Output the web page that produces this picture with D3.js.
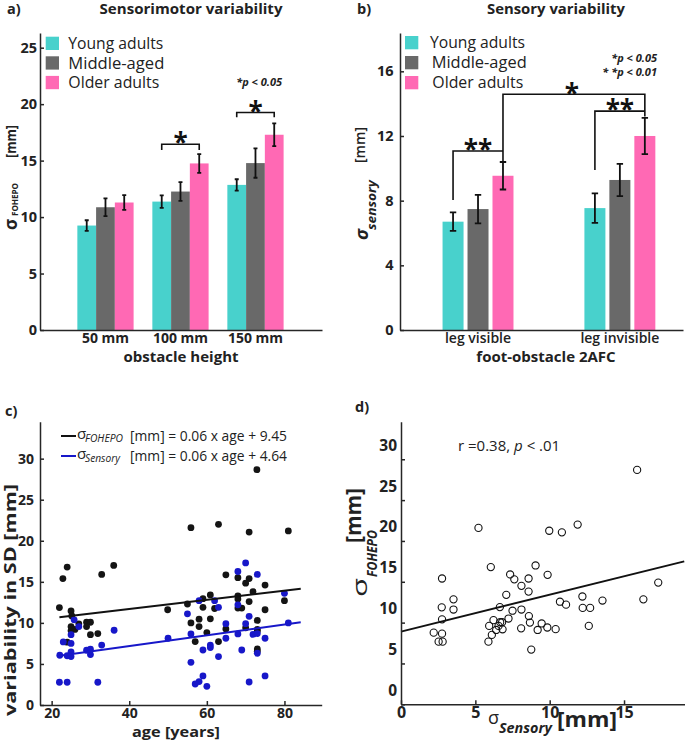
<!DOCTYPE html>
<html><head><meta charset="utf-8">
<script src="https://cdn.jsdelivr.net/npm/d3@7"></script>
<style>body{margin:0;background:#fff} svg{display:block} text{font-family:'Open Sans',sans-serif}</style>
</head><body><svg id="chart" width="685" height="743"></svg>
<script>
// ---------- DATA ----------
const groups = ["Young adults", "Middle-aged", "Older adults"];
const groupColors = ["#48D1CC", "#696969", "#FF69B4"];

// panel a: sensorimotor variability
const heightLabels = ["50 mm", "100 mm", "150 mm"];
const smYoung = [9.25, 11.37, 12.85];
const smYoungErr = [0.47, 0.55, 0.5];
const smMiddle = [10.87, 12.26, 14.78];
const smMiddleErr = [0.78, 0.83, 1.3];
const smOlder = [11.29, 14.75, 17.29];
const smOlderErr = [0.66, 0.83, 1.0];
const yTicksA = [0, 5, 10, 15, 20, 25];

// panel b: sensory variability
const visLabels = ["leg visible", "leg invisible"];
const senYoung = [6.7, 7.54];
const senYoungErr = [0.57, 0.91];
const senMiddle = [7.48, 9.28];
const senMiddleErr = [0.88, 1.0];
const senOlder = [9.54, 12.0];
const senOlderErr = [0.85, 1.12];
const yTicksB = [0, 4, 8, 12, 16];

// panel c: variability vs age
const ageTicks = [20, 40, 60, 80];
const varTicks = [0, 5, 10, 15, 20, 25, 30];
const cAgeFohepo = [22.0, 22.9, 24.0, 32.9, 36.0, 25.0, 25.2, 27.0, 29.0, 30.0, 25.0, 25.0, 26.0, 29.0, 30.0, 31.9, 24.0,
  49.9, 55.0, 55.9, 63.0, 70.9, 81.0, 72.9, 64.9, 68.0, 70.9, 70.0, 75.0, 71.9, 60.9, 59.0, 68.0, 68.0, 70.9, 80.0,
  59.0, 62.0, 68.0, 69.0, 75.0, 55.9, 58.0, 60.9, 73.0, 58.0, 64.9, 70.0, 73.0, 60.0, 73.0, 57.0, 63.0, 73.0, 73.0];
const cFohepo = [11.87, 15.4, 16.8, 15.9, 17.0, 11.46, 10.85, 9.88, 10.08, 10.08, 9.55, 9.06, 9.2, 9.55, 8.57, 8.7, 7.65,
  11.6, 12.3, 21.6, 22.0, 21.06, 21.2, 28.66, 15.85, 15.5, 15.4, 14.84, 14.6, 13.8, 13.4, 12.95, 13.3, 12.9, 12.6, 12.7,
  11.9, 11.75, 11.8, 11.8, 11.6, 10.0, 10.45, 10.5, 10.3, 9.55, 9.27, 9.4, 9.2, 8.82, 9.0, 7.72, 7.72, 6.83, 6.55];
const cAgeSensory = [25.8, 27.0, 23.0, 25.0, 36.1, 32.9, 25.0, 22.1, 24.0, 25.0, 25.0, 29.0, 30.0, 30.0, 22.0, 24.0, 31.9,
  50.0, 70.0, 68.0, 73.0, 80.0, 58.0, 62.0, 68.0, 63.0, 55.0, 70.9, 81.0, 64.9, 70.0, 55.9, 68.0, 71.9, 73.0, 64.9, 75.0,
  60.9, 60.9, 59.0, 69.0, 73.0, 63.0, 55.9, 59.0, 58.0, 57.0, 60.0, 70.9, 75.0];
const cSensory = [10.37, 9.55, 7.68, 7.5, 9.1, 7.3, 8.57, 6.06, 6.0, 6.46, 5.9, 6.67, 6.8, 6.14, 2.77, 2.77, 2.77,
  8.13, 17.3, 16.26, 15.9, 13.6, 12.7, 12.7, 12.2, 11.9, 11.1, 10.8, 10.0, 9.9, 9.9, 8.66, 8.66, 8.6, 8.7, 8.13, 8.13,
  7.3, 7.0, 6.7, 6.7, 6.3, 5.9, 5.2, 3.54, 2.85, 2.56, 2.28, 2.8, 3.54];
const fitAge = [22, 84.2];
const fitFohepo = [10.7, 14.15];
const fitSensory = [6.0, 10.08];

// panel d: correlation
const sensTicks = [0, 5, 10, 15];
const dSensory = [15.88, 5.21, 9.97, 10.82, 11.88, 9.05, 6.04, 7.34, 7.62, 8.58, 9.86, 8.1, 8.58, 7.08, 2.76, 3.53, 3.53,
  2.74, 2.76, 2.2, 2.76, 2.53, 2.8, 5.88, 6.65, 7.5, 8.1, 7.23, 6.22, 5.93, 6.67, 6.8, 6.56, 6.83, 6.11, 6.4, 8.6, 8.67,
  8.08, 9.19, 9.46, 9.84, 10.4, 8.76, 10.69, 11.1, 12.2, 12.22, 12.72, 12.63, 13.55, 17.3, 16.3];
const dFohepo = [28.7, 21.6, 21.25, 21.05, 22.0, 17.0, 16.8, 15.9, 15.3, 15.4, 15.85, 14.5, 13.8, 13.4, 15.4, 12.85, 11.6,
  11.87, 10.4, 8.77, 8.65, 7.67, 7.67, 7.67, 11.9, 11.46, 11.6, 10.5, 10.3, 9.6, 10.05, 10.05, 9.6, 9.18, 8.5, 9.1, 10.8, 10.0,
  9.3, 9.1, 9.9, 9.4, 9.2, 6.7, 12.56, 12.2, 13.2, 11.8, 11.8, 9.6, 12.7, 14.9, 12.85];
const dFitX = [0, 19.05];
const dFitY = [8.9, 17.5];

// ---------- DRAW ----------
const svg = d3.select("#chart");
const INK = "#222";
function txt(g, x, y, s, o = {}) {
  const t = g.append("text").attr("x", x).attr("y", y).text(s)
    .attr("font-size", o.size || 14).attr("font-weight", o.weight || "normal")
    .attr("font-style", o.style || "normal").attr("text-anchor", o.anchor || "start")
    .attr("fill", o.fill || INK);
  if (o.len) t.attr("textLength", o.len).attr("lengthAdjust", "spacingAndGlyphs");
  return t;
}
function styleAxis(g, size, weight) {
  g.attr("color", "#262626");
  g.selectAll("path,line").attr("stroke-width", 1.5);
  g.selectAll("text").attr("font-size", size).attr("font-weight", weight || "bold")
    .attr("font-family", "'Open Sans', sans-serif").attr("fill", INK);
}
function rotLabel(x, y, parts) {
  const g = svg.append("g").attr("transform", `translate(${x},${y}) rotate(-90)`);
  parts.forEach(p => txt(g, p.dx, p.dy, p.t, p));
}

// ===== Panel a =====
const xA = d3.scaleLinear().domain([0.127, 3.887]).range([40, 322]);
const yA = d3.scaleLinear().domain([0, 26.3]).range([330, 33]);
const aMeans = [smYoung, smMiddle, smOlder], aErrs = [smYoungErr, smMiddleErr, smOlderErr];
const gA = svg.append("g");
const wA = xA(0.25) - xA(0);
aMeans.forEach((arr, j) => arr.forEach((v, i) => {
  const cx = xA(i + 1 + (j - 1) * 0.25);
  gA.append("rect").attr("x", cx - wA / 2).attr("width", wA).attr("y", yA(v)).attr("height", yA(0) - yA(v)).attr("fill", groupColors[j]);
}));
aMeans.forEach((arr, j) => arr.forEach((v, i) => {
  const cx = xA(i + 1 + (j - 1) * 0.25), e = aErrs[j][i];
  gA.append("path").attr("d", `M${cx},${yA(v - e)}V${yA(v + e)}M${cx - 2},${yA(v - e)}H${cx + 2}M${cx - 2},${yA(v + e)}H${cx + 2}`)
    .attr("stroke", "#111").attr("stroke-width", 1.8).attr("fill", "none");
}));
const axA = gA.append("g").attr("transform", "translate(40,0)")
  .call(d3.axisLeft(yA).tickValues(yTicksA).tickSize(-4).tickSizeOuter(0).tickPadding(3));
styleAxis(axA, 14.5);
const axAx = gA.append("g").attr("transform", "translate(0,330)").call(d3.axisBottom(xA).tickValues([]).tickSizeOuter(0));
styleAxis(axAx, 14);
heightLabels.forEach((l, i) => txt(gA, xA(i + 1), 343.3, l, { size: 14, weight: "bold", anchor: "middle" }));
txt(gA, 181, 362, "obstacle height", { size: 15, weight: "bold", anchor: "middle" });
txt(gA, 7, 13.5, "a)", { size: 14.5, weight: "bold" });
txt(gA, 191, 13.5, "Sensorimotor variability", { size: 14.5, weight: "bold", anchor: "middle", len: 183 });
groups.forEach((gname, j) => {
  gA.append("rect").attr("x", 45.7).attr("y", 36.7 + j * 19.6).attr("width", 13.3).attr("height", 13.3).attr("fill", groupColors[j]);
  txt(gA, 68.3, 49.3 + j * 19.3, gname, { size: 15.5, len: [95, 96, 91][j] });
});
txt(gA, 282, 86, "*p < 0.05", { size: 11, weight: "bold", style: "italic", anchor: "end" });
// significance brackets (a)
const bracketsACat = [2, 3], bracketsATop = [16.45, 19.26], bracketsALeg = [15.95, 18.85];
bracketsACat.forEach((c, k) => {
  const x0 = xA(c - 0.25), x1 = xA(c + 0.25);
  gA.append("path").attr("d", `M${x0},${yA(bracketsALeg[k])}V${yA(bracketsATop[k])}H${x1}V${yA(bracketsALeg[k])}`)
    .attr("stroke", "#111").attr("stroke-width", 1.6).attr("fill", "none");
  txt(gA, xA(c), yA(bracketsATop[k]) - 7 + 15, "*", { size: 26, weight: "bold", anchor: "middle", fill: "#111" });
});
rotLabel(17, 230, [
  { t: "σ", dx: 0, dy: 0, size: 17, weight: "bold" },
  { t: "FOHEPO", dx: 14, dy: 1, size: 9.5, weight: "bold", len: 33 },
  { t: "[mm]", dx: 72, dy: -1.5, size: 14, weight: "bold", len: 33 }
]);

// ===== Panel b =====
const xB = d3.scaleLinear().domain([0.45, 2.445]).range([400, 683]);
const yB = d3.scaleLinear().domain([0, 18.37]).range([330, 33]);
const bMeans = [senYoung, senMiddle, senOlder], bErrs = [senYoungErr, senMiddleErr, senOlderErr];
const gB = svg.append("g");
const wB = xB(0.148) - xB(0);
bMeans.forEach((arr, j) => arr.forEach((v, i) => {
  const cx = xB(i + 1 + (j - 1) * 0.176);
  gB.append("rect").attr("x", cx - wB / 2).attr("width", wB).attr("y", yB(v)).attr("height", yB(0) - yB(v)).attr("fill", groupColors[j]);
}));
bMeans.forEach((arr, j) => arr.forEach((v, i) => {
  const cx = xB(i + 1 + (j - 1) * 0.176), e = bErrs[j][i];
  gB.append("path").attr("d", `M${cx},${yB(v - e)}V${yB(v + e)}M${cx - 3.2},${yB(v - e)}H${cx + 3.2}M${cx - 3.2},${yB(v + e)}H${cx + 3.2}`)
    .attr("stroke", "#111").attr("stroke-width", 1.8).attr("fill", "none");
}));
const axB = gB.append("g").attr("transform", "translate(400,0)")
  .call(d3.axisLeft(yB).tickValues(yTicksB).tickSize(-4).tickSizeOuter(0).tickPadding(6.5));
styleAxis(axB, 14.5);
const axBx = gB.append("g").attr("transform", "translate(0,330)").call(d3.axisBottom(xB).tickValues([]).tickSizeOuter(0));
styleAxis(axBx, 14);
visLabels.forEach((l, i) => txt(gB, xB(i + 1), 342.5, l, { size: 14, weight: 600, anchor: "middle" }));
txt(gB, 546, 362, "foot-obstacle 2AFC", { size: 15, weight: "bold", anchor: "middle" });
txt(gB, 357, 13.5, "b)", { size: 14.5, weight: "bold" });
txt(gB, 556, 13.5, "Sensory variability", { size: 14.5, weight: "bold", anchor: "middle", len: 138 });
const legBx = [430, 431.7, 432.3];
groups.forEach((gname, j) => {
  gB.append("rect").attr("x", 405).attr("y", 36 + j * 20).attr("width", 13.3).attr("height", 13.3).attr("fill", groupColors[j]);
  txt(gB, legBx[j], 47.5 + j * 20, gname, { size: 15.5, len: [95, 95, 91][j] });
});
txt(gB, 657, 61.5, "*p < 0.05", { size: 11, weight: "bold", style: "italic", anchor: "end" });
txt(gB, 657, 76, "* *p < 0.01", { size: 11, weight: "bold", style: "italic", anchor: "end" });
const bp = (d) => gB.append("path").attr("d", d).attr("stroke", "#111").attr("stroke-width", 1.6).attr("fill", "none");
const xYv = xB(1 - 0.176), xOv = xB(1 + 0.176), xYi = xB(2 - 0.176), xOi = xB(2 + 0.176);
bp(`M${xYv},${yB(8.04)}V${yB(11.07)}H${xOv}`);
bp(`M${xOv},${yB(10.41)}V${yB(14.58)}H${xOi}V${yB(13.2)}`);
bp(`M${xYi},${yB(9.9)}V${yB(13.54)}H${xOi}`);
txt(gB, xB(1), yB(11.07) - 7 + 15, "**", { size: 26, weight: "bold", anchor: "middle", fill: "#111" });
txt(gB, (xOv + xOi) / 2 - 2, yB(14.58) - 6 + 15, "*", { size: 26, weight: "bold", anchor: "middle", fill: "#111" });
txt(gB, (xYi + xOi) / 2, yB(13.54) - 7 + 15, "**", { size: 26, weight: "bold", anchor: "middle", fill: "#111" });
rotLabel(368, 240, [
  { t: "σ", dx: 0, dy: 0, size: 18, weight: "bold", style: "italic" },
  { t: "sensory", dx: 10, dy: 8, size: 13, weight: "bold", style: "italic", len: 50 },
  { t: "[mm]", dx: 77, dy: -3, size: 15, weight: 600, len: 36 }
]);

// ===== Panel c =====
const xC = d3.scaleLinear().domain([17, 89.6]).range([40, 321.7]);
const yC = d3.scaleLinear().domain([0, 34.5]).range([705, 421.7]);
const gC = svg.append("g");
cAgeFohepo.forEach((a, i) => gC.append("circle").attr("cx", xC(a)).attr("cy", yC(cFohepo[i])).attr("r", 3.4).attr("fill", "#141414"));
cAgeSensory.forEach((a, i) => gC.append("circle").attr("cx", xC(a)).attr("cy", yC(cSensory[i])).attr("r", 3.4).attr("fill", "#1717c9"));
const lineC = (vals, col) => gC.append("line").attr("x1", xC(fitAge[0])).attr("x2", xC(fitAge[1]))
  .attr("y1", yC(vals[0])).attr("y2", yC(vals[1])).attr("stroke", col).attr("stroke-width", 2);
lineC(fitFohepo, "#111");
lineC(fitSensory, "#1717c9");
const axCy = gC.append("g").attr("transform", "translate(40,0)")
  .call(d3.axisLeft(yC).tickValues(varTicks).tickSize(-4).tickSizeOuter(0).tickPadding(6));
styleAxis(axCy, 14);
const axCx = gC.append("g").attr("transform", "translate(0,705)")
  .call(d3.axisBottom(xC).tickValues(ageTicks).tickSize(-4).tickSizeOuter(0).tickPadding(3));
styleAxis(axCx, 14);
txt(gC, 176, 737, "age [years]", { size: 15, weight: "bold", anchor: "middle", len: 88 });
txt(gC, 5, 416, "c)", { size: 14.5, weight: "bold" });
rotLabel(16, 600, [{ t: "variability in SD [mm]", dx: 0, dy: 0, size: 15.5, weight: "bold", anchor: "middle", len: 232 }]);
// legend c
gC.append("line").attr("x1", 61).attr("x2", 76).attr("y1", 436).attr("y2", 436).attr("stroke", "#111").attr("stroke-width", 2);
gC.append("line").attr("x1", 61).attr("x2", 76).attr("y1", 456).attr("y2", 456).attr("stroke", "#1717c9").attr("stroke-width", 2);
txt(gC, 77, 438.5, "σ", { size: 15 });
txt(gC, 85, 442, "FOHEPO", { size: 10.5, style: "italic", len: 38 });
txt(gC, 130, 441, "[mm] = 0.06 x age + 9.45", { size: 15, len: 157 });
txt(gC, 77, 458.5, "σ", { size: 15 });
txt(gC, 85, 462, "Sensory", { size: 10.5, style: "italic", len: 35 });
txt(gC, 130, 461, "[mm] = 0.06 x age + 4.64", { size: 15, len: 157 });

// ===== Panel d =====
const xD = d3.scaleLinear().domain([0, 19.1]).range([401, 685]);
const yD = d3.scaleLinear().domain([0, 34.6]).range([704.3, 421.7]);
const gD = svg.append("g");
dSensory.forEach((s, i) => gD.append("circle").attr("cx", xD(s)).attr("cy", yD(dFohepo[i])).attr("r", 3.6)
  .attr("fill", "none").attr("stroke", "#111").attr("stroke-width", 1.1));
gD.append("line").attr("x1", xD(dFitX[0])).attr("x2", xD(dFitX[1])).attr("y1", yD(dFitY[0])).attr("y2", yD(dFitY[1]))
  .attr("stroke", "#111").attr("stroke-width", 2);
const axDy = gD.append("g").attr("transform", "translate(401,0)")
  .call(d3.axisLeft(yD).tickValues(varTicks).tickSize(-4).tickSizeOuter(0).tickPadding(4));
styleAxis(axDy, 15.5);
axDy.selectAll("text").attr("y", -14);
const axDx = gD.append("g").attr("transform", "translate(0,704.3)")
  .call(d3.axisBottom(xD).tickValues(sensTicks).tickSize(-4).tickSizeOuter(0).tickPadding(2));
styleAxis(axDx, 16);
txt(gD, 355, 412, "d)", { size: 14.5, weight: "bold" });
const rT = gD.append("text").attr("x", 458).attr("y", 451).attr("font-size", 15).attr("fill", INK);
rT.append("tspan").text("r =0.38, ");
rT.append("tspan").attr("font-style", "italic").text("p");
rT.append("tspan").text(" < .01");
txt(gD, 488, 724, "σ", { size: 18 });
txt(gD, 499, 733, "Sensory", { size: 14, weight: "bold", style: "italic", len: 53 });
txt(gD, 557, 727, "[mm]", { size: 21, weight: "bold", len: 60 });
rotLabel(367, 597, [
  { t: "σ", dx: 0, dy: 0, size: 20, len: 19 },
  { t: "FOHEPO", dx: 20, dy: 10, size: 15, weight: "bold", style: "italic", len: 47 },
  { t: "[mm]", dx: 54, dy: -6, size: 21, weight: "bold", len: 55 }
]);
</script></body></html>
